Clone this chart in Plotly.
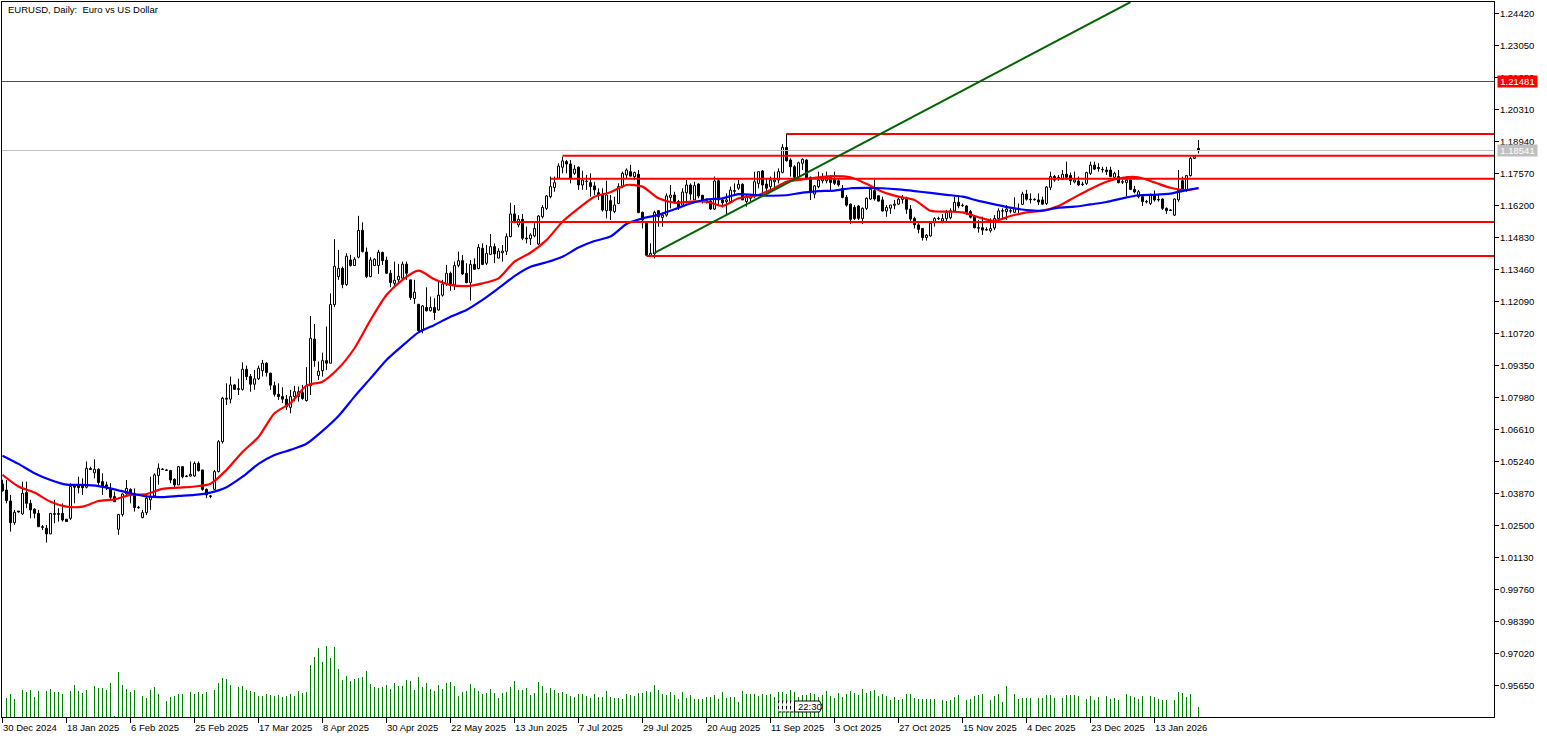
import plotly.graph_objects as go

# daily bars
opens = [
    1.0427,1.0401,1.0354,1.0261,1.0311,1.0299,1.0390,1.0344,1.0319,1.0301,
    1.0244,1.0237,1.0213,1.0300,1.0300,1.0301,1.0276,1.0280,1.0418,1.0418,
    1.0423,1.0413,1.0493,1.0475,1.0490,1.0437,1.0423,1.0408,1.0373,1.0233,
    1.0296,1.0384,1.0404,1.0387,1.0327,1.0283,1.0304,1.0359,1.0376,1.0463,
    1.0491,1.0487,1.0484,1.0447,1.0423,1.0501,1.0461,1.0461,1.0461,1.0515,
    1.0487,1.0404,1.0376,1.0404,1.0480,1.0608,1.0794,1.0790,1.0851,1.0835,
    1.0832,1.0918,1.0887,1.0854,1.0877,1.0912,1.0944,1.0901,1.0848,1.0811,
    1.0801,1.0790,1.0755,1.0801,1.0801,1.0818,1.0784,1.0847,1.1047,1.0891,
    1.0912,1.0955,1.0944,1.1195,1.1315,1.1350,1.1281,1.1386,1.1362,1.1398,
    1.1513,1.1420,1.1315,1.1362,1.1362,1.1418,1.1385,1.1329,1.1286,1.1301,
    1.1308,1.1368,1.1301,1.1221,1.1196,1.1084,1.1183,1.1169,1.1183,1.1172,
    1.1235,1.1283,1.1329,1.1279,1.1363,1.1383,1.1329,1.1289,1.1367,1.1349,
    1.1436,1.1372,1.1410,1.1443,1.1394,1.1417,1.1423,1.1486,1.1583,1.1536,
    1.1560,1.1480,1.1477,1.1489,1.1454,1.1571,1.1607,1.1657,1.1696,1.1736,
    1.1783,1.1807,1.1797,1.1757,1.1783,1.1707,1.1724,1.1717,1.1703,1.1674,
    1.1667,1.1597,1.1640,1.1593,1.1628,1.1700,1.1750,1.1764,1.1743,1.1753,
    1.1590,1.1547,1.1406,1.1412,1.1597,1.1568,1.1578,1.1654,1.1664,1.1636,
    1.1621,1.1674,1.1707,1.1643,1.1711,1.1663,1.1640,1.1638,1.1604,1.1725,
    1.1643,1.1636,1.1636,1.1683,1.1693,1.1710,1.1636,1.1650,1.1660,1.1714,
    1.1767,1.1711,1.1700,1.1721,1.1728,1.1761,1.1868,1.1814,1.1785,1.1743,
    1.1800,1.1814,1.1740,1.1668,1.1700,1.1725,1.1725,1.1740,1.1731,1.1725,
    1.1693,1.1654,1.1625,1.1611,1.1617,1.1563,1.1607,1.1647,1.1683,1.1661,
    1.1643,1.1596,1.1608,1.1620,1.1625,1.1645,1.1646,1.1604,1.1563,1.1536,
    1.1521,1.1482,1.1489,1.1551,1.1564,1.1553,1.1563,1.1567,1.1596,1.1633,
    1.1620,1.1617,1.1593,1.1574,1.1524,1.1524,1.1516,1.1511,1.1523,1.1564,
    1.1597,1.1593,1.1597,1.1590,1.1607,1.1624,1.1668,1.1646,1.1646,1.1643,
    1.1643,1.1628,1.1697,1.1743,1.1740,1.1731,1.1753,1.1748,1.1720,1.1724,
    1.1711,1.1714,1.1757,1.1792,1.1782,1.1774,1.1771,1.1771,1.1740,1.1743,
    1.1721,1.1717,1.1728,1.1688,1.1657,1.1657,1.1636,1.1628,1.1664,1.1645,
    1.1647,1.1607,1.1600,1.1578,1.1643,1.1725,1.1688,1.1747,1.1821,1.1864,
]
highs = [
    1.0445,1.0444,1.0380,1.0316,1.0311,1.0437,1.0437,1.0359,1.0323,1.0316,
    1.0251,1.0251,1.0301,1.0359,1.0323,1.0344,1.0276,1.0430,1.0423,1.0458,
    1.0451,1.0523,1.0501,1.0533,1.0494,1.0473,1.0437,1.0430,1.0394,1.0299,
    1.0387,1.0444,1.0408,1.0408,1.0333,1.0316,1.0380,1.0458,1.0473,1.0515,
    1.0494,1.0490,1.0487,1.0451,1.0504,1.0504,1.0465,1.0523,1.0523,1.0523,
    1.0487,1.0408,1.0380,1.0487,1.0615,1.0800,1.0858,1.0887,1.0854,1.0877,
    1.0948,1.0934,1.0898,1.0915,1.0934,1.0958,1.0948,1.0904,1.0865,1.0858,
    1.0841,1.0808,1.0830,1.0847,1.0844,1.0851,1.0927,1.1146,1.1112,1.0951,
    1.0989,1.1101,1.1243,1.1475,1.1429,1.1358,1.1415,1.1408,1.1398,1.1575,
    1.1547,1.1439,1.1398,1.1393,1.1429,1.1422,1.1400,1.1343,1.1379,1.1369,
    1.1379,1.1379,1.1301,1.1301,1.1198,1.1193,1.1269,1.1229,1.1222,1.1296,
    1.1301,1.1365,1.1336,1.1379,1.1422,1.1407,1.1372,1.1386,1.1393,1.1454,
    1.1457,1.1450,1.1497,1.1457,1.1436,1.1450,1.1500,1.1631,1.1621,1.1578,
    1.1583,1.1529,1.1500,1.1543,1.1578,1.1621,1.1664,1.1743,1.1743,1.1800,
    1.1828,1.1814,1.1814,1.1793,1.1786,1.1768,1.1750,1.1757,1.1721,1.1693,
    1.1693,1.1725,1.1664,1.1657,1.1714,1.1764,1.1778,1.1793,1.1764,1.1771,
    1.1593,1.1550,1.1457,1.1597,1.1600,1.1588,1.1671,1.1707,1.1678,1.1643,
    1.1693,1.1728,1.1714,1.1721,1.1714,1.1664,1.1650,1.1643,1.1743,1.1735,
    1.1650,1.1671,1.1700,1.1714,1.1728,1.1714,1.1664,1.1664,1.1764,1.1764,
    1.1771,1.1735,1.1743,1.1764,1.1778,1.1882,1.1928,1.1821,1.1792,1.1807,
    1.1821,1.1817,1.1743,1.1707,1.1764,1.1757,1.1764,1.1750,1.1764,1.1735,
    1.1707,1.1664,1.1628,1.1621,1.1621,1.1611,1.1654,1.1693,1.1731,1.1664,
    1.1657,1.1621,1.1621,1.1643,1.1657,1.1664,1.1657,1.1621,1.1571,1.1543,
    1.1521,1.1497,1.1543,1.1569,1.1571,1.1583,1.1600,1.1607,1.1657,1.1657,
    1.1628,1.1621,1.1600,1.1578,1.1557,1.1571,1.1526,1.1564,1.1578,1.1607,
    1.1607,1.1621,1.1607,1.1654,1.1628,1.1678,1.1686,1.1671,1.1650,1.1671,
    1.1657,1.1703,1.1764,1.1750,1.1750,1.1771,1.1807,1.1760,1.1764,1.1743,
    1.1721,1.1764,1.1807,1.1807,1.1800,1.1785,1.1785,1.1785,1.1764,1.1771,
    1.1735,1.1743,1.1743,1.1703,1.1685,1.1660,1.1643,1.1671,1.1683,1.1668,
    1.1650,1.1611,1.1603,1.1650,1.1771,1.1743,1.1750,1.1828,1.1831,1.1899,
]
lows = [
    1.0394,1.0344,1.0223,1.0252,1.0304,1.0294,1.0323,1.0280,1.0280,1.0244,
    1.0230,1.0176,1.0213,1.0259,1.0266,1.0266,1.0266,1.0273,1.0344,1.0387,
    1.0380,1.0408,1.0487,1.0451,1.0423,1.0380,1.0401,1.0359,1.0351,1.0209,
    1.0287,1.0380,1.0344,1.0309,1.0321,1.0280,1.0294,1.0316,1.0373,1.0423,
    1.0487,1.0483,1.0430,1.0408,1.0423,1.0451,1.0456,1.0458,1.0458,1.0480,
    1.0398,1.0366,1.0366,1.0401,1.0476,1.0600,1.0765,1.0772,1.0830,1.0808,
    1.0827,1.0872,1.0822,1.0830,1.0872,1.0887,1.0887,1.0830,1.0801,1.0787,
    1.0773,1.0744,1.0730,1.0780,1.0780,1.0787,1.0780,1.0808,1.0929,1.0872,
    1.0887,1.0915,1.0944,1.1184,1.1301,1.1265,1.1275,1.1358,1.1360,1.1393,
    1.1418,1.1308,1.1312,1.1360,1.1326,1.1365,1.1326,1.1269,1.1265,1.1286,
    1.1301,1.1301,1.1215,1.1198,1.1079,1.1072,1.1165,1.1165,1.1129,1.1169,
    1.1229,1.1275,1.1254,1.1257,1.1355,1.1322,1.1286,1.1212,1.1343,1.1346,
    1.1364,1.1364,1.1407,1.1372,1.1393,1.1379,1.1407,1.1483,1.1543,1.1526,
    1.1471,1.1457,1.1450,1.1483,1.1450,1.1564,1.1600,1.1650,1.1678,1.1736,
    1.1757,1.1757,1.1714,1.1750,1.1686,1.1686,1.1686,1.1657,1.1664,1.1643,
    1.1593,1.1564,1.1557,1.1586,1.1625,1.1693,1.1735,1.1743,1.1728,1.1586,
    1.1521,1.1403,1.1403,1.1393,1.1528,1.1528,1.1571,1.1607,1.1628,1.1600,
    1.1621,1.1628,1.1643,1.1643,1.1650,1.1628,1.1628,1.1600,1.1600,1.1621,
    1.1611,1.1578,1.1628,1.1664,1.1686,1.1643,1.1614,1.1636,1.1650,1.1693,
    1.1664,1.1678,1.1678,1.1693,1.1714,1.1757,1.1807,1.1743,1.1735,1.1743,
    1.1771,1.1728,1.1643,1.1650,1.1693,1.1714,1.1714,1.1685,1.1707,1.1700,
    1.1650,1.1614,1.1540,1.1557,1.1557,1.1540,1.1600,1.1643,1.1640,1.1636,
    1.1593,1.1571,1.1583,1.1603,1.1621,1.1628,1.1583,1.1550,1.1521,1.1500,
    1.1469,1.1469,1.1486,1.1529,1.1557,1.1543,1.1550,1.1560,1.1593,1.1607,
    1.1614,1.1578,1.1564,1.1521,1.1503,1.1493,1.1512,1.1503,1.1514,1.1550,
    1.1557,1.1557,1.1586,1.1586,1.1586,1.1621,1.1640,1.1628,1.1640,1.1621,
    1.1621,1.1621,1.1685,1.1721,1.1725,1.1728,1.1728,1.1707,1.1714,1.1703,
    1.1703,1.1707,1.1750,1.1771,1.1764,1.1760,1.1750,1.1740,1.1735,1.1714,
    1.1711,1.1657,1.1685,1.1671,1.1650,1.1617,1.1628,1.1621,1.1636,1.1636,
    1.1600,1.1583,1.1597,1.1574,1.1635,1.1678,1.1678,1.1743,1.1818,1.1842,
]
closes = [
    1.0398,1.0356,1.0261,1.0306,1.0307,1.0387,1.0344,1.0316,1.0301,1.0244,
    1.0241,1.0213,1.0301,1.0297,1.0297,1.0273,1.0266,1.0416,1.0413,1.0411,
    1.0411,1.0494,1.0489,1.0490,1.0433,1.0418,1.0416,1.0370,1.0351,1.0296,
    1.0384,1.0408,1.0380,1.0326,1.0325,1.0304,1.0366,1.0373,1.0466,1.0494,
    1.0489,1.0485,1.0444,1.0423,1.0501,1.0458,1.0459,1.0468,1.0515,1.0484,
    1.0404,1.0380,1.0374,1.0480,1.0608,1.0794,1.0790,1.0851,1.0832,1.0832,
    1.0918,1.0887,1.0854,1.0877,1.0922,1.0944,1.0904,1.0850,1.0811,1.0801,
    1.0790,1.0758,1.0801,1.0822,1.0822,1.0793,1.0848,1.1051,1.0955,1.0910,
    1.0955,1.0944,1.1195,1.1359,1.1350,1.1281,1.1402,1.1362,1.1389,1.1512,
    1.1422,1.1315,1.1386,1.1389,1.1419,1.1383,1.1329,1.1289,1.1299,1.1316,
    1.1368,1.1329,1.1225,1.1248,1.1084,1.1189,1.1169,1.1183,1.1161,1.1235,
    1.1283,1.1329,1.1277,1.1362,1.1383,1.1326,1.1289,1.1367,1.1346,1.1440,
    1.1367,1.1414,1.1443,1.1412,1.1424,1.1424,1.1486,1.1583,1.1550,1.1560,
    1.1479,1.1476,1.1493,1.1521,1.1574,1.1611,1.1660,1.1700,1.1717,1.1788,
    1.1810,1.1797,1.1736,1.1775,1.1707,1.1728,1.1722,1.1700,1.1686,1.1664,
    1.1600,1.1664,1.1597,1.1621,1.1700,1.1757,1.1771,1.1745,1.1760,1.1589,
    1.1557,1.1406,1.1414,1.1590,1.1571,1.1578,1.1660,1.1664,1.1636,1.1611,
    1.1677,1.1707,1.1668,1.1704,1.1660,1.1643,1.1638,1.1604,1.1724,1.1643,
    1.1631,1.1643,1.1685,1.1680,1.1710,1.1643,1.1657,1.1657,1.1721,1.1764,
    1.1707,1.1693,1.1728,1.1728,1.1764,1.1868,1.1811,1.1785,1.1740,1.1802,
    1.1817,1.1735,1.1678,1.1703,1.1728,1.1740,1.1740,1.1718,1.1714,1.1707,
    1.1654,1.1621,1.1560,1.1563,1.1564,1.1607,1.1650,1.1689,1.1647,1.1638,
    1.1596,1.1611,1.1621,1.1625,1.1646,1.1654,1.1603,1.1561,1.1537,1.1517,
    1.1482,1.1492,1.1543,1.1563,1.1562,1.1563,1.1589,1.1597,1.1633,1.1617,
    1.1618,1.1589,1.1569,1.1524,1.1522,1.1514,1.1514,1.1521,1.1564,1.1596,
    1.1595,1.1604,1.1595,1.1607,1.1605,1.1668,1.1646,1.1644,1.1644,1.1634,
    1.1625,1.1698,1.1743,1.1728,1.1738,1.1753,1.1740,1.1725,1.1728,1.1707,
    1.1709,1.1760,1.1792,1.1775,1.1777,1.1772,1.1764,1.1743,1.1757,1.1717,
    1.1719,1.1728,1.1688,1.1677,1.1678,1.1636,1.1634,1.1664,1.1643,1.1643,
    1.1607,1.1597,1.1598,1.1647,1.1685,1.1685,1.1747,1.1821,1.1828,1.1854,
]
tick_volume = [
    0,19,23,18,0,27,25,27,20,26,
    0,26,28,25,25,23,0,26,32,26,
    24,27,0,31,29,29,27,34,1,45,
    32,28,25,27,0,21,19,27,30,23,
    0,16,20,21,23,23,0,25,23,25,
    23,25,0,27,34,39,38,32,0,30,
    31,27,26,25,21,21,23,22,21,22,
    20,21,23,21,26,24,25,52,60,69,
    55,71,59,70,48,37,41,36,38,39,
    40,46,33,30,29,30,32,28,34,31,
    31,37,36,27,40,30,34,28,26,32,
    28,34,35,31,21,25,26,33,29,26,
    23,24,28,24,19,24,25,30,36,27,
    27,29,22,24,35,31,24,29,27,24,
    25,23,21,20,23,23,21,19,23,20,
    20,26,20,19,19,18,23,22,21,24,
    24,26,25,32,27,23,22,25,22,18,
    25,19,22,18,18,18,20,20,22,18,
    25,19,20,20,15,26,23,23,23,21,
    23,22,23,20,25,25,23,27,25,20,
    22,22,24,23,20,22,26,21,19,24,
    20,23,26,24,22,28,24,26,27,21,
    23,21,17,20,17,18,23,23,19,18,
    18,18,18,18,0,17,16,17,20,22,
    0,17,18,21,22,23,0,17,21,23,
    15,31,0,23,18,19,19,19,0,19,
    19,22,22,19,0,19,22,22,22,21,
    0,18,21,17,20,0,21,18,19,17,
    0,23,21,20,18,21,0,21,20,18,
    17,17,0,17,25,24,20,23,0,10,
]

# moving averages, sampled every 4 bars
ma_bars = list(range(0, 300, 4)) + [299]
ma_fast = [
    1.0466,1.0416,1.0390,1.0351,1.0330,1.0330,1.0354,1.0361,1.0380,1.0384,
    1.0406,1.0411,1.0416,1.0428,1.0487,1.0564,1.0628,1.0730,1.0773,1.0848,
    1.0865,1.0922,1.1008,1.1129,1.1236,1.1301,1.1340,1.1303,1.1279,1.1274,
    1.1286,1.1307,1.1379,1.1417,1.1471,1.1550,1.1607,1.1657,1.1676,1.1707,
    1.1700,1.1650,1.1631,1.1636,1.1636,1.1617,1.1650,1.1660,1.1685,1.1721,
    1.1731,1.1740,1.1745,1.1740,1.1712,1.1678,1.1657,1.1643,1.1597,1.1593,
    1.1590,1.1569,1.1553,1.1574,1.1590,1.1597,1.1617,1.1654,1.1690,1.1721,
    1.1738,1.1740,1.1718,1.1695,1.1685,1.1693,
]
ma_slow = [
    1.0548,1.0513,1.0473,1.0444,1.0424,1.0423,1.0418,1.0404,1.0387,1.0374,
    1.0371,1.0376,1.0380,1.0390,1.0413,1.0458,1.0513,1.0551,1.0573,1.0599,
    1.0654,1.0718,1.0801,1.0879,1.0958,1.1019,1.1076,1.1108,1.1143,1.1172,
    1.1215,1.1265,1.1317,1.1357,1.1376,1.1400,1.1439,1.1467,1.1486,1.1540,
    1.1564,1.1579,1.1603,1.1628,1.1645,1.1650,1.1668,1.1664,1.1661,1.1663,
    1.1674,1.1681,1.1683,1.1693,1.1695,1.1693,1.1688,1.1681,1.1673,1.1665,
    1.1657,1.1639,1.1624,1.1610,1.1600,1.1597,1.1610,1.1614,1.1624,1.1634,
    1.1650,1.1663,1.1665,1.1670,1.1685,1.1694,
]

# drawn levels
level_prices = [1.19253, 1.18323, 1.17339, 1.15485, 1.14029]
level_starts = [196, 140, 137, 127, 161]
trend_bars = [163, 282]
trend_prices = [1.1416, 1.2490]
alert_price = 1.2150
bid_price = 1.18546

price_ticks = [1.2442, 1.2305, 1.2168, 1.2031, 1.1894, 1.1757, 1.1620, 1.1483, 1.1346, 1.1209,
               1.1072, 1.0935, 1.0798, 1.0661, 1.0524, 1.0387, 1.0250, 1.0113, 0.9976, 0.9839,
               0.9702, 0.9565]
date_labels = ["30 Dec 2024", "18 Jan 2025", "6 Feb 2025", "25 Feb 2025", "17 Mar 2025", "8 Apr 2025",
               "30 Apr 2025", "22 May 2025", "13 Jun 2025", "7 Jul 2025", "29 Jul 2025", "20 Aug 2025",
               "11 Sep 2025", "3 Oct 2025", "27 Oct 2025", "15 Nov 2025", "4 Dec 2025", "23 Dec 2025",
               "13 Jan 2026"]
date_ticks = [i * 16 for i in range(len(date_labels))]

FONT = "Liberation Sans"
FONT_SIZE = 9.5
BAR_LEFT = -0.125
BAR_RIGHT = 372.875

bars = list(range(len(opens)))
body_low = [min(o, c) for o, c in zip(opens, closes)]
body_high = [max(o, c) for o, c in zip(opens, closes)]
body_size = [h - l for h, l in zip(body_high, body_low)]
body_fill = ["white" if c > o else "black" for o, c in zip(opens, closes)]

# wicks stop at the body so white candles stay hollow
wick_x, wick_y = [], []
for i in bars:
    wick_x += [i, i, None, i, i, None]
    wick_y += [highs[i], body_high[i], None, body_low[i], lows[i], None]

vol_x, vol_y = [], []
for i in bars:
    if tick_volume[i] > 0:
        vol_x += [i, i, None]
        vol_y += [0, tick_volume[i], None]

fig = go.Figure()
fig.add_trace(go.Scatter(x=vol_x, y=vol_y, mode="lines", yaxis="y2", hoverinfo="skip",
                         line=dict(color="#008000", width=1)))
fig.add_trace(go.Bar(x=bars, y=body_size, base=body_low, width=0.5, hoverinfo="skip",
                     marker=dict(color=body_fill, line=dict(color="black", width=1))))
fig.add_trace(go.Scatter(x=wick_x, y=wick_y, mode="lines", hoverinfo="skip",
                         line=dict(color="black", width=1)))
fig.add_trace(go.Scatter(x=ma_bars, y=ma_fast, mode="lines", hoverinfo="skip",
                         line=dict(color="#ff0000", width=2.2, shape="spline", smoothing=0.7)))
fig.add_trace(go.Scatter(x=ma_bars, y=ma_slow, mode="lines", hoverinfo="skip",
                         line=dict(color="#0000ff", width=2.2, shape="spline", smoothing=0.7)))

shapes = []
shapes.append(dict(type="line", x0=BAR_LEFT, x1=BAR_RIGHT, y0=alert_price, y1=alert_price,
                   line=dict(color="#ff0000", width=1)))
shapes.append(dict(type="line", x0=BAR_LEFT, x1=BAR_RIGHT, y0=bid_price, y1=bid_price,
                   line=dict(color="#c0c0c0", width=1)))
for start, price in zip(level_starts, level_prices):
    shapes.append(dict(type="line", x0=start, x1=BAR_RIGHT, y0=price, y1=price,
                       line=dict(color="#ff0000", width=2)))
shapes.append(dict(type="line", x0=trend_bars[0], x1=trend_bars[1], y0=trend_prices[0], y1=trend_prices[1],
                   line=dict(color="#006400", width=2)))

# the countdown label with its stacked leftovers, sits on the volume bars
for bar in [194, 195, 196, 197]:
    shapes.append(dict(type="rect", xref="x", yref="paper", x0=bar, x1=bar + 1, y0=0.0070, y1=0.0224,
                       fillcolor="white", line=dict(color="black", width=1, dash="dot")))
shapes.append(dict(type="path", xref="x", yref="paper", xsizemode="pixel", ysizemode="pixel",
                   xanchor=198, yanchor=0.0147, path="M0,-5.5 L25,-5.5 L28,0 L25,5.5 L0,5.5 Z",
                   fillcolor="white", line=dict(color="black", width=1)))

annotations = []
for bar, label in zip(date_ticks, date_labels):
    annotations.append(dict(x=bar, y=0, xref="x", yref="paper", text=label, showarrow=False,
                            xanchor="left", yanchor="top", yshift=-3, xshift=-2,
                            font=dict(family=FONT, size=FONT_SIZE, color="black")))
annotations.append(dict(x=0, y=1, xref="paper", yref="paper", text="EURUSD, Daily:\u00a0\u00a0Euro vs US Dollar",
                        showarrow=False, xanchor="left", yanchor="top", xshift=4, yshift=0,
                        font=dict(family=FONT, size=FONT_SIZE, color="black")))
annotations.append(dict(x=198, y=0.0147, xref="x", yref="paper", text="22:30", showarrow=False,
                        xanchor="left", yanchor="middle", xshift=1,
                        font=dict(family=FONT, size=FONT_SIZE, color="black")))
annotations.append(dict(x=1, y=alert_price, xref="paper", yref="y", text="1.21481", showarrow=False,
                        xanchor="left", xshift=3, width=39, height=11, borderpad=0, bgcolor="#ff0000",
                        font=dict(family=FONT, size=FONT_SIZE, color="white")))
annotations.append(dict(x=1, y=bid_price, xref="paper", yref="y", text="1.18541", showarrow=False,
                        xanchor="left", xshift=3, width=39, height=11, borderpad=0, bgcolor="#c0c0c0",
                        font=dict(family=FONT, size=FONT_SIZE, color="white")))

fig.update_layout(
    width=1547, height=738,
    margin=dict(l=2, r=53, t=2, b=21, pad=0),
    plot_bgcolor="white", paper_bgcolor="white",
    showlegend=False, barmode="overlay",
    shapes=shapes, annotations=annotations,
    xaxis=dict(range=[BAR_LEFT, BAR_RIGHT], tickvals=date_ticks, showticklabels=False,
               ticks="outside", ticklen=5, tickcolor="black", tickwidth=1,
               showgrid=False, zeroline=False, showline=True, linecolor="black", linewidth=1, mirror=True),
    yaxis=dict(range=[0.94293, 1.24904], side="right", tickvals=price_ticks, tickformat=".5f",
               ticks="outside", ticklen=4, tickcolor="black", tickwidth=1, ticklabelstandoff=-1,
               tickfont=dict(family=FONT, size=FONT_SIZE, color="black"),
               showgrid=False, zeroline=False, showline=True, linecolor="black", linewidth=1, mirror=True),
    yaxis2=dict(range=[0, 715], overlaying="y", visible=False),
)

fig.write_html("out.html", config=dict(displayModeBar=False),
               post_script="document.body.style.margin='0';document.body.style.overflow='hidden';")
